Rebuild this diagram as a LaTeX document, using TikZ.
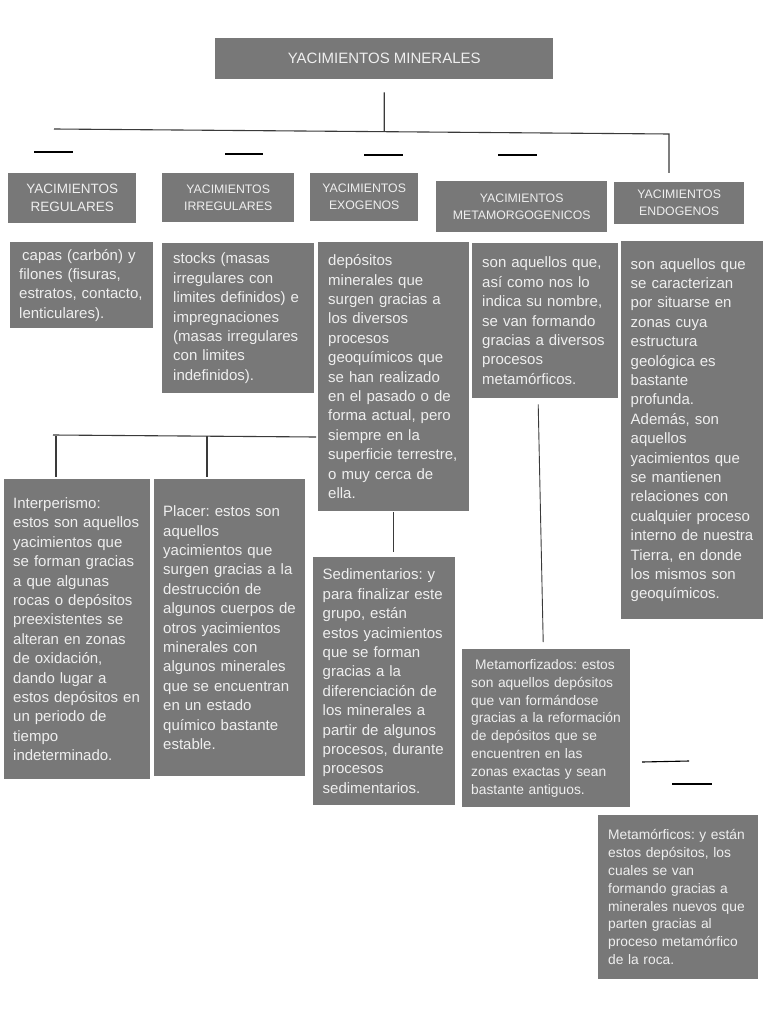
\documentclass[tikz,border=0pt]{standalone}
\usepackage{fontspec}
\setmainfont{Liberation Sans}
\usetikzlibrary{calc}
\frenchspacing
\hyphenpenalty=10000
\definecolor{boxgray}{HTML}{787878}
\definecolor{boxtext}{HTML}{EFEFEF}
\definecolor{linec}{HTML}{3A3A3A}
\tikzset{
  headbox/.style={fill=boxgray, text=boxtext, align=center, inner sep=0pt,
              anchor=north west, font=\fontsize{12.3}{17}\selectfont},
  descbox/.style={fill=boxgray, text=boxtext, align=left, inner xsep=10pt,
              inner ysep=0pt, anchor=north west, font=\fontsize{15}{19.4}\selectfont},
  smallbox/.style={descbox, font=\fontsize{13.8}{17.8}\selectfont},
  link/.style={draw=linec, line width=1.1pt},
  stub/.style={draw=black, line width=1.1pt},
}

\begin{document}
\begin{tikzpicture}[x=1pt, y=-1pt]
\path[fill=white, use as bounding box] (0,0) rectangle (768,1024);

\node[headbox, minimum width=338, minimum height=41, font=\fontsize{15}{18}\selectfont]
  (title) at (215,38) {YACIMIENTOS MINERALES};

\node[headbox, minimum width=128, minimum height=50, font=\fontsize{13.5}{18}\selectfont]
  (reg) at (8,173) {YACIMIENTOS\\REGULARES};
\node[headbox, minimum width=132, minimum height=49] (irr) at (162,173) {YACIMIENTOS\\IRREGULARES};
\node[headbox, minimum width=108, minimum height=48] (exo) at (310,173) {YACIMIENTOS\\EXOGENOS};
\node[headbox, minimum width=171, minimum height=51] (metag) at (436,181) {YACIMIENTOS\\METAMORGOGENICOS};
\node[headbox, minimum width=130, minimum height=42] (endog) at (614,182) {YACIMIENTOS\\ENDOGENOS};

\node[descbox, inner xsep=9pt, text width=125pt, minimum height=86] (capas) at (10,242)
  {\hspace{3pt}capas (carbón) y\\filones (fisuras,\\estratos, contacto,\\lenticulares).};
\node[descbox, inner xsep=11pt, text width=130pt, minimum height=150] (stocks) at (162,243)
  {stocks (masas\\irregulares con\\limites definidos) e\\impregnaciones\\(masas irregulares\\con limites\\indefinidos).};
\node[descbox, text width=131pt, minimum height=269] (dep) at (318,242)
  {depósitos\\minerales que\\surgen gracias a\\los diversos\\procesos\\geoquímicos que\\se han realizado\\en el pasado o de\\forma actual, pero\\siempre en la\\superficie terrestre,\\o muy cerca de\\ella.};
\node[descbox, text width=126pt, minimum height=155] (metad) at (472,243)
  {son aquellos que,\\así como nos lo\\indica su nombre,\\se van formando\\gracias a diversos\\procesos\\metamórficos.};
\node[descbox, inner xsep=9.5pt, text width=123pt, minimum height=378] (endod) at (621,241)
  {son aquellos que\\se caracterizan\\por situarse en\\zonas cuya\\estructura\\geológica es\\bastante\\profunda.\\Además, son\\aquellos\\yacimientos que\\se mantienen\\relaciones con\\cualquier proceso\\interno de nuestra\\Tierra, en donde\\los mismos son\\geoquímicos.};

\node[descbox, inner xsep=9pt, text width=128pt, minimum height=300] (inter) at (4,479)
  {Interperismo:\\estos son aquellos\\yacimientos que\\se forman gracias\\a que algunas\\rocas o depósitos\\preexistentes se\\alteran en zonas\\de oxidación,\\dando lugar a\\estos depósitos en\\un periodo de\\tiempo\\indeterminado.};
\node[descbox, inner xsep=9pt, text width=133pt, minimum height=297] (placer) at (154,479)
  {Placer: estos son\\aquellos\\yacimientos que\\surgen gracias a la\\destrucción de\\algunos cuerpos de\\otros yacimientos\\minerales con\\algunos minerales\\que se encuentran\\en un estado\\químico bastante\\estable.};
\node[descbox, inner xsep=9.5pt, text width=123pt, minimum height=248] (sed) at (313,557)
  {Sedimentarios: y\\para finalizar este\\grupo, están\\estos yacimientos\\que se forman\\gracias a la\\diferenciación de\\los minerales a\\partir de algunos\\procesos, durante\\procesos\\sedimentarios.};
\node[smallbox, inner xsep=9pt, text width=150pt, minimum height=158] (metaz) at (462,649)
  {\hspace{4pt}Metamorfizados: estos\\son aquellos depósitos\\que van formándose\\gracias a la reformación\\de depósitos que se\\encuentren en las\\zonas exactas y sean\\bastante antiguos.};
\node[smallbox, inner xsep=10pt, text width=140pt, minimum height=164] (metam) at (598,815)
  {Metamórficos: y están\\estos depósitos, los\\cuales se van\\formando gracias a\\minerales nuevos que\\parten gracias al\\proceso metamórfico\\de la roca.};

\coordinate (busW) at (54,129);
\coordinate (busE) at (669,134);
\draw[link] ([yshift=-13pt]title.south) -- ($(busW)!0.537!(busE)$);
\draw[link] (busW) -- (busE) -- ($(busE |- endog.north)+(0,-9)$);

\coordinate (bus2W) at (53,435);
\coordinate (bus2E) at (316,437);
\coordinate (dropI) at (56,436);
\coordinate (dropP) at (207,436);
\draw[link] (bus2W) -- (bus2E);
\draw[link, shorten >=2pt] (dropI) -- (dropI |- inter.north);
\draw[link, shorten >=2pt] (dropP) -- (dropP |- placer.north);
\draw[link, shorten <=1pt, shorten >=5pt] (dep.south) -- (dep.south |- sed.north);
\draw[link, line width=0.9pt] ($(metad.south)+(-7,6)$) -- ($(metaz.north)+(-3,-7)$);

\foreach \xa/\xb/\yy in {34/73/152, 225/263/154, 364/403/155, 498/537/155, 672/712/784}
  \draw[stub] (\xa,\yy) -- (\xb,\yy);
\draw[stub] (642,762) -- (689,761);
\end{tikzpicture}
\end{document}
